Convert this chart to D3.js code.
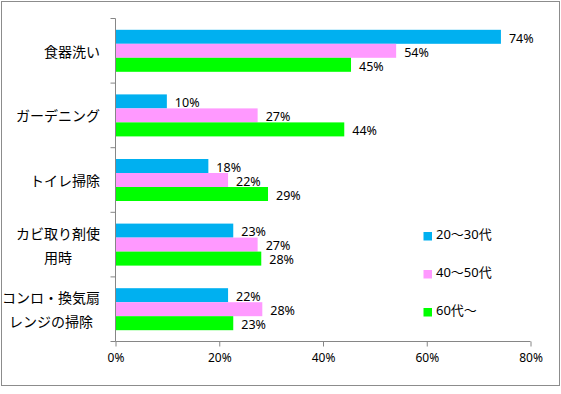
<!DOCTYPE html>
<html><head><meta charset="utf-8">
<script src="https://cdn.jsdelivr.net/npm/d3@7"></script>
<style>
html,body{margin:0;padding:0;background:#fff;}
svg{display:block;}
</style></head>
<body>
<svg id="chart" width="561" height="394"></svg>
<script>
// ---- data ----
const categories = ["食器洗い", "ガーデニング", "トイレ掃除", "カビ取り剤使\n用時", "コンロ・換気扇\nレンジの掃除"];
const seriesNames = ["20～30代", "40～50代", "60代～"];
const values2030 = [74.3, 9.9, 17.9, 22.7, 21.7];
const values4050 = [54.1, 27.4, 21.7, 27.4, 28.3];
const values60 = [45.4, 44.1, 29.4, 28.1, 22.7];
const xTicks = [0, 20, 40, 60, 80];
const colors = ["#00B0F0", "#FF99FF", "#00FF00"];

const seriesValues = [values2030, values4050, values60];

const svg = d3.select("#chart");
const font = "'Noto Sans', 'Noto Sans CJK JP', sans-serif";

// outer border
svg.append("rect").attr("x", 1.5).attr("y", 1.5).attr("width", 558).attr("height", 384)
  .attr("fill", "#fff").attr("stroke", "#8c8c8c").attr("stroke-width", 1);

const x = d3.scaleLinear().domain([0, 80]).range([115.5, 530.5]);
const y = d3.scaleBand().domain(d3.range(categories.length)).range([18.5, 341.5]).paddingInner(0).paddingOuter(0);
const bandPad = 11.3;
const ys = d3.scaleBand().domain(d3.range(seriesNames.length))
  .range([bandPad, y.bandwidth() - bandPad]);

// bars
seriesValues.forEach((vals, si) => {
  svg.append("g").selectAll("rect").data(vals).join("rect")
    .attr("x", x(0))
    .attr("y", (d, i) => y(i) + ys(si))
    .attr("width", d => x(d) - x(0))
    .attr("height", ys.bandwidth())
    .attr("fill", colors[si]);
});
seriesValues.forEach((vals, si) => {
  svg.append("g").selectAll("text").data(vals).join("text")
    .attr("x", d => x(d) + 8)
    .attr("y", (d, i) => y(i) + ys(si) + ys.bandwidth() / 2 + 1.5)
    .attr("dy", "0.35em")
    .attr("font-family", font).attr("font-size", 12.5).attr("fill", "#000")
    .text(d => Math.round(d) + "%");
});

// x axis
const xAxis = d3.axisBottom(x).tickValues(xTicks).tickFormat(d => d + "%").tickSize(5).tickPadding(7);
const gx = svg.append("g").attr("transform", "translate(0,341.5)").call(xAxis);
gx.select(".domain").attr("stroke", "#868686").attr("d", `M${x(0)},0H${x(80)}`);
gx.selectAll(".tick line").attr("stroke", "#868686");
gx.selectAll(".tick text").attr("font-family", font).attr("font-size", 12).attr("fill", "#000");

// y axis line and ticks at category boundaries
const boundaries = d3.range(categories.length + 1).map(i => 18.5 + i * y.bandwidth());
svg.append("line").attr("x1", x(0)).attr("x2", x(0)).attr("y1", boundaries[0]).attr("y2", boundaries[boundaries.length - 1])
  .attr("stroke", "#868686");
svg.append("g").selectAll("line").data(boundaries).join("line")
  .attr("x1", x(0) - 5).attr("x2", x(0)).attr("y1", d => d).attr("y2", d => d)
  .attr("stroke", "#868686");

// category labels
const lineH = 24;
categories.forEach((c, i) => {
  const lines = c.split("\n");
  const cy = y(i) + y.bandwidth() / 2 + 1;
  const g = svg.append("g");
  const texts = lines.map((l, li) => g.append("text")
    .attr("y", cy + (li - (lines.length - 1) / 2) * lineH)
    .attr("dy", "0.35em")
    .attr("font-family", "'Noto Sans CJK JP', sans-serif").attr("font-size", 14).attr("fill", "#000")
    .text(l));
  const widths = texts.map(t => t.node().getComputedTextLength());
  const maxW = d3.max(widths);
  const right = 100;
  texts.forEach(t => t.attr("x", right - maxW / 2).attr("text-anchor", "middle"));
});

// legend
const legendY = [236, 274, 312];
seriesNames.forEach((n, i) => {
  svg.append("rect").attr("x", 423.5).attr("y", legendY[i] - 4).attr("width", 8.5).attr("height", 8.5)
    .attr("fill", colors[i]);
  svg.append("text").attr("x", 436).attr("y", legendY[i] - 2).attr("dy", "0.35em")
    .attr("font-family", font).attr("font-size", 13).attr("fill", "#000").text(n);
});
</script>
</body></html>
